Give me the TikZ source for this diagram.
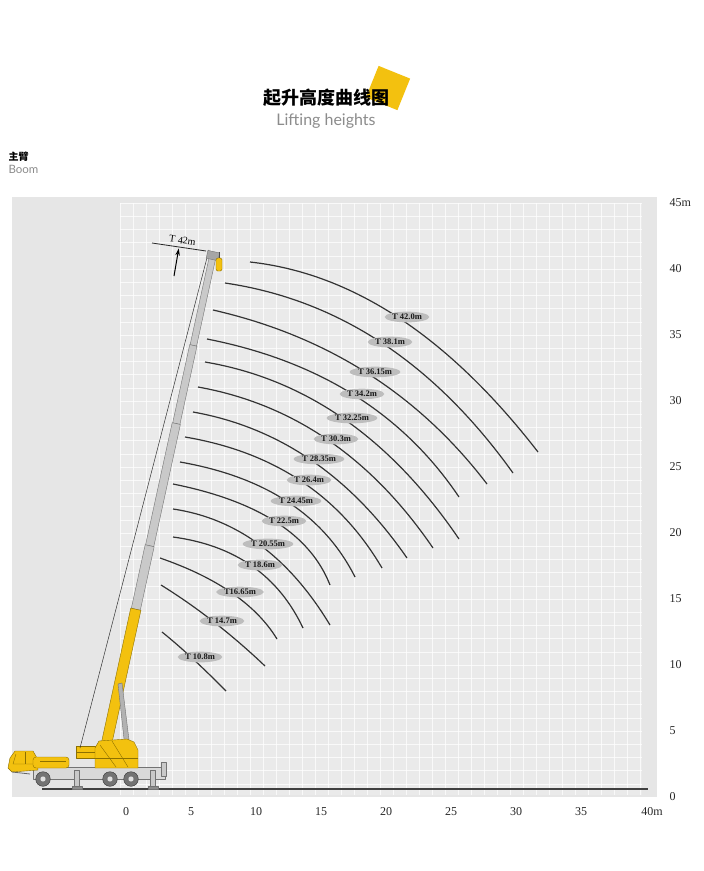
\documentclass[tikz,border=0pt]{standalone}
\usepackage{fontspec}
\setmainfont{Liberation Serif}
\newfontfamily\cjk{Noto Sans CJK SC}
\newfontfamily\lato{Lato}
\usetikzlibrary{arrows, arrows.meta}
\usetikzlibrary{shapes}
\usetikzlibrary{positioning, calc}
\definecolor{craneyellow}{HTML}{F3C10F}
\definecolor{craneedge}{HTML}{8C7000}
\definecolor{panel}{HTML}{E6E6E6}
\definecolor{gridfill}{HTML}{EAEAEA}
\definecolor{boomgray}{HTML}{C9C9C9}
\tikzset{curve/.style={draw=black!80,line width=1.2pt}}
\tikzset{tag/.style={ellipse,fill=black!26,inner sep=0.9pt,text=black!90,font=\fontsize{8.5}{9}\selectfont\bfseries}}
\tikzset{gridline/.style={draw=white,line width=0.6pt,opacity=0.75}}
\tikzset{axislabel/.style={text=black!85,font=\fontsize{12}{12}\selectfont}}
\tikzset{body/.style={fill=craneyellow,draw=craneedge,line width=0.4pt}}
\tikzset{steel/.style={fill=boomgray,draw=black!55,line width=0.4pt}}

\begin{document}
\begin{tikzpicture}[
> = {Stealth[length=7pt,width=4.5pt]}, % arrow head style
x = 1pt, y = -1pt, % one unit = one pixel, y goes down
line join = round
]
\useasboundingbox (0,0) rectangle (704,871);
\fill[white] (0,0) rectangle (704,871);

% title
\fill[craneyellow, rotate around={-22:(388,88)}] (371,71) rectangle (405,105);
\node[font=\cjk\bfseries\fontsize{18}{18}\selectfont] (title) at (326,98) {起升高度曲线图};
\node[below=0pt of title, text=black!45, font=\lato\fontsize{16}{16}\selectfont] (subtitle) {Lifting heights};
\node[anchor=west, font=\cjk\bfseries\fontsize{10}{10}\selectfont] (boomzh) at (5,157) {主臂};
\node[below=-4pt of boomzh.south west, anchor=north west, text=black!45, font=\lato\fontsize{11.5}{11.5}\selectfont] (boomen) {Boom};

% chart panel and grid
\fill[panel] (12,197) rectangle (657,797);
\fill[gridfill] (120,203) rectangle (642,795);
\foreach \i in {0,...,40}
  \draw[gridline] ({120+13*\i},203) -- ({120+13*\i},795);
\foreach \j in {0,...,44}
  \draw[gridline] (120,{203+13.2*\j}) -- (642,{203+13.2*\j});

% axis labels
\foreach \v in {0,5,...,40}
  \node[axislabel, anchor=west] (y\v) at (666,{797-13.2*\v}) {\v};
\node[axislabel, anchor=west] (y45) at (666,203) {45m};
\foreach \v in {0,5,...,35}
  \node[axislabel] (x\v) at ({126+13*\v},812) {\v};
\node[axislabel] (x40) at (652,812) {40m};

% height curves
\foreach \n/\sx/\sy/\lx/\ly/\ex/\ey/\txt in {
  1/250/262/407/317/538/452/T 42.0m,
  2/225/283/390/342/513/473/T 38.1m,
  3/213/310/375/372/487/484/T 36.15m,
  4/207/339/362/394/459/497/T 34.2m,
  5/205/362/352/418/459/539/T 32.25m,
  6/198/387/336/439/433/548/T 30.3m,
  7/193/412/319/459/407/558/T 28.35m,
  8/185/437/309/480/382/568/T 26.4m,
  9/180/462/296/501/355/577/T 24.45m,
  10/173/484/284/521/330/585/T 22.5m,
  11/173/509/268/544/330/625/T 20.55m,
  12/173/537/260/565/303/628/T 18.6m,
  13/160/558/240/592/277/639/T16.65m,
  14/161/585/222/621/265/666/T 14.7m,
  15/162/632/200/657/226/691/T 10.8m}
{
  \coordinate (s\n) at (\sx,\sy);
  \coordinate (m\n) at (\lx-8,\ly+1);
  \coordinate (e\n) at (\ex,\ey);
  \draw[curve] (s\n) .. controls ($1.3333*(m\n)-0.3333*(e\n)$) and ($1.3333*(m\n)-0.3333*(s\n)$) .. (e\n);
  \node[tag] (h\n) at (\lx,\ly) {\txt};
}

% ground
\draw[line width=1.2pt, black!75] (42,789) -- (648,789);

% carrier
\draw[steel, fill=black!15] (33,767) rectangle (165,779);
\foreach \ox in {77,153} {
  \draw[steel] (\ox-2.5,770) rectangle (\ox+2.5,786);
  \draw[steel, fill=black!45] (\ox-5,786) rectangle (\ox+5,789);
}
\draw[steel] (161,762) rectangle (166,776);
\foreach \wx in {43,110,131} {
  \draw[fill=black!55, draw=black!80] (\wx,779) circle[radius=7.3pt];
  \draw[fill=black!12, draw=black!60] (\wx,779) circle[radius=3pt];
}
\draw[body] (8,768) -- (10,758) -- (15,751) -- (33,751) -- (37,758) -- (38,770) -- (12,772) -- cycle;
\draw[craneedge] (16,754) -- (13,764) -- (36,764);
\draw[craneedge] (25,752) -- (25,764);
\draw[body, rounded corners=3pt] (33,757) rectangle (69,768);
\draw[craneedge] (40,761) -- (66,761);
\draw[black!60, line width=0.8pt] (12,772) -- (30,774);
\draw[body] (76,746) rectangle (102,758);
\draw[craneedge] (76,752) -- (102,752);

% boom, cable and cylinder
\coordinate (ctop) at (209,250);
\coordinate (cbot) at (80,748);
\draw[black!80, line width=0.5pt] (cbot) -- (ctop);
\begin{scope}[shift={(106,746)}, rotate=-12.3]
  \draw[steel] (-3.3,-410) rectangle (3.3,-500);
  \draw[steel] (-3.7,-330) rectangle (3.7,-410);
  \draw[steel] (-4.2,-205) rectangle (4.2,-330);
  \draw[steel] (-4.6,-140) rectangle (4.6,-205);
  \draw[body] (-5.2,0) rectangle (5.2,-140);
  \draw[steel, fill=black!35] (-6,-498) rectangle (6,-506);
\end{scope}
\draw[black!70] (219,252) -- (219,259);
\draw[body, rounded corners=1.5pt] (216,258) rectangle (222,271);
\draw[steel, fill=black!30] (118,684) -- (122,683) -- (130,748) -- (125,748) -- cycle;
\draw[body] (95,768) -- (95,748) -- (99,741) -- (127,739) -- (134,742) -- (138,750) -- (138,768) -- cycle;
\draw[craneedge] (100,745) -- (116,767);
\draw[craneedge] (112,741) -- (128,767);
\draw[craneedge] (95,758) -- (138,758);

% tip height mark
\coordinate (mk1) at (152,243);
\coordinate (mk2) at (206,251);
\draw[black!85, line width=0.8pt] (mk1) -- (mk2);
\node[above=-2pt of mk1, anchor=south west, xshift=13pt, rotate=-8, font=\fontsize{10}{10}\selectfont] (tiptag) {T 42m};
\coordinate (arr) at (174,276);
\draw[->, line width=1pt, shorten >=1.5pt] (arr) -- ($(mk1)!0.5!(mk2)$);
\end{tikzpicture}
\end{document}
